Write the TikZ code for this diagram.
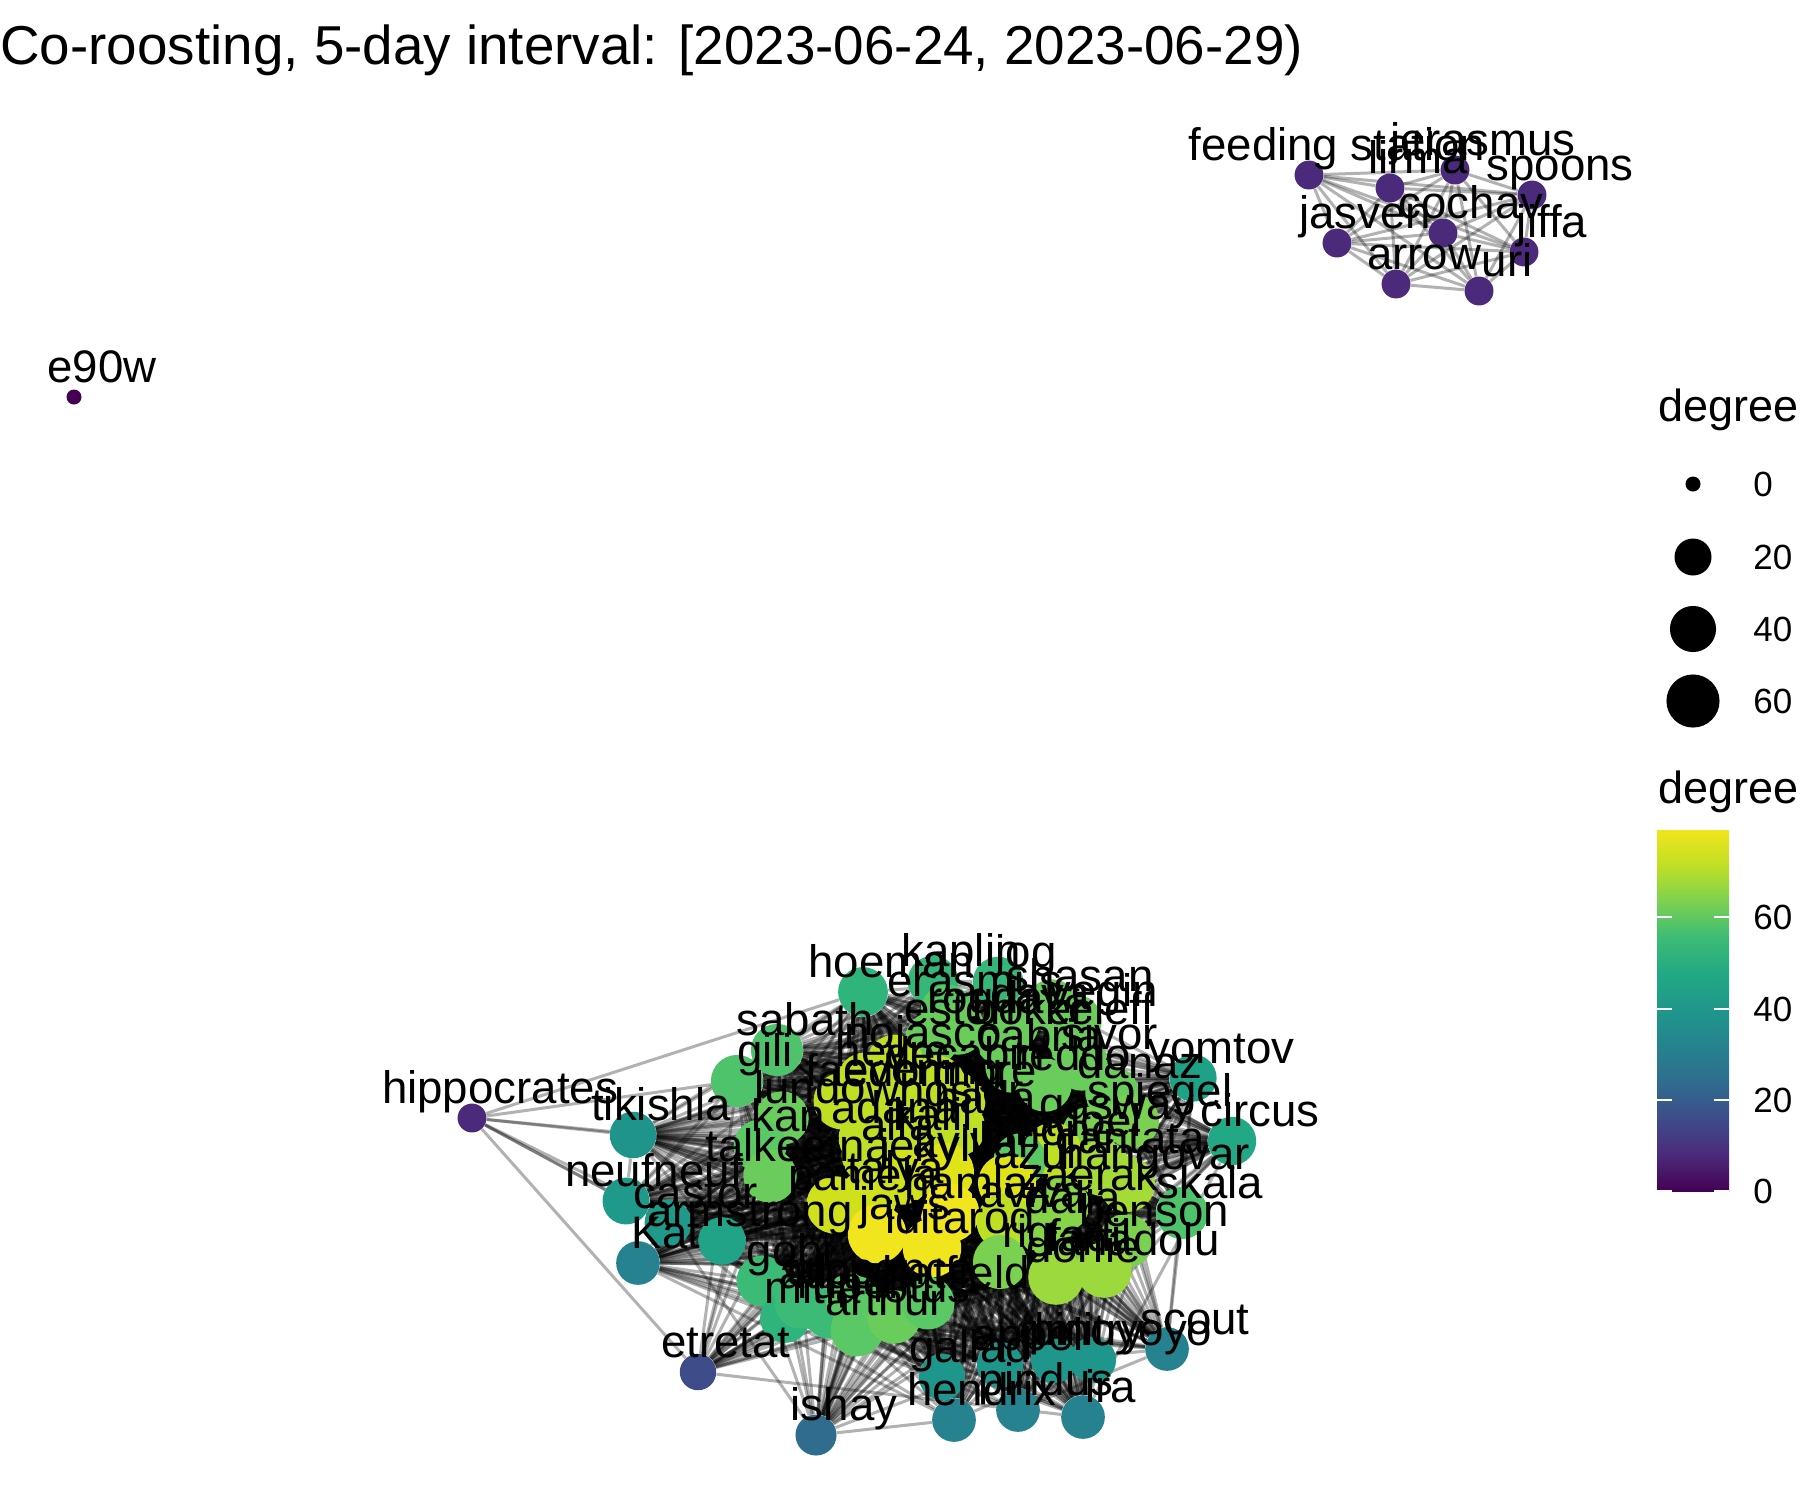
\documentclass[tikz,border=0pt]{standalone}
\usepackage{fontspec}
\setmainfont{Liberation Sans}
\usetikzlibrary{backgrounds}
\definecolor{deg0}{HTML}{440154}
\definecolor{deg8}{HTML}{4B2A7B}
\definecolor{deg19}{HTML}{3E4C8A}
\definecolor{deg28}{HTML}{2F6C8E}
\definecolor{deg34}{HTML}{26828E}
\definecolor{deg40}{HTML}{1F968B}
\definecolor{deg41}{HTML}{1F948A}
\definecolor{deg42}{HTML}{1F9A8A}
\definecolor{deg43}{HTML}{1FA187}
\definecolor{deg44}{HTML}{20A386}
\definecolor{deg46}{HTML}{22A884}
\definecolor{deg50}{HTML}{2FB47C}
\definecolor{deg52}{HTML}{35B779}
\definecolor{deg53}{HTML}{3BBB75}
\definecolor{deg57}{HTML}{4EC36B}
\definecolor{deg59}{HTML}{5AC864}
\definecolor{deg61}{HTML}{6ACD5B}
\definecolor{deg63}{HTML}{7AD151}
\definecolor{deg65}{HTML}{86D549}
\definecolor{deg68}{HTML}{9BD93C}
\definecolor{deg69}{HTML}{A5DB36}
\definecolor{deg72}{HTML}{BFDF25}
\definecolor{deg74}{HTML}{D0E11C}
\definecolor{deg76}{HTML}{E0E318}
\definecolor{deg78}{HTML}{F1E51D}
\pgfdeclareverticalshading{viridisbar}{100bp}{%
  color(0bp)=(deg0);color(25bp)=(deg0);
  color(30bp)=(deg8);color(35bp)=(deg19);color(40bp)=(deg28);
  color(45bp)=(deg34);color(50bp)=(deg40);color(55bp)=(deg46);
  color(60bp)=(deg53);color(65bp)=(deg63);color(70bp)=(deg72);
  color(75bp)=(deg78);color(100bp)=(deg78)}
\tikzset{
  bird/.style={circle,inner sep=0pt,minimum size={(7.5+2.46*sqrt(#1))*1pt},fill=deg#1},
  birdname/.style={anchor=base,inner sep=0pt,font=\fontsize{22.8}{22.8}\selectfont},
  coroost/.style={line width=1.5pt,draw opacity=0.3},
  legendhead/.style={anchor=base west,inner sep=0pt,font=\fontsize{22.5}{22.5}\selectfont},
  legendnum/.style={anchor=west,inner sep=0pt,font=\fontsize{17.5}{17.5}\selectfont},
  legenddot/.style={circle,inner sep=0pt,fill=black,minimum size={(7.5+2.46*sqrt(#1))*1pt}},
  barstick/.style={white,line width=0.6pt}
}
% x/y/degree/name
\def\mainroost{863/992/50/hoeman,933/981/52/kaplin,998/982/52/jog,947/1011/59/erasmus,
  1052/1006/61/shasan,958/1028/61/rogda,1012/1024/61/dava,1075/1021/61/vegin,
  932/1039/61/eston,1002/1039/61/boker,1072/1039/61/keleff,1082/1064/61/sivor,
  1012/1066/61/cabria,895/1063/72/nojasco,865/1081/72/hevre,937/1084/72/decabin,
  842/1101/72/faedor,895/1099/72/evening,957/1101/72/more,1045/1085/61/reddo,
  1112/1093/61/danaz,1132/1121/63/spiegel,1089/1134/63/gasway,1053/1151/72/iadoel,
  1102/1168/69/cantata,1127/1184/69/hangovar,1020/1160/59/pinone,782/1118/61/lundo,
  760/1146/59/kan,770/1176/61/talkeetna,777/1050/57/sabath,737/1081/57/gili,
  917/1121/72/whosler,867/1138/72/adana,957/1128/72/hada,905/1145/72/kalil,870/1155/72/alfa,
  902/1176/74/jekyll,945/1172/76/avivar,835/1205/74/pamela,868/1198/74/talya,877/1234/78/jaws,
  932/1248/78/iditarod,950/1213/78/hamlaz,1007/1183/76/azul,1005/1222/72/aviva,1062/1205/65/zaerak,
  1045/1228/65/dalia,1126/1241/63/benson,1182/1213/57/skala,1193/1078/43/yomtov,1232/1141/46/circus,
  633/1135/41/tikishla,626/1201/42/neufneuf,668/1223/42/castor,722/1241/44/armstrong,
  638/1263/34/Kat,762/1281/53/gobi,785/1318/50/mitla,800/1303/53/atlas,829/1313/53/rupert,
  852/1299/59/tuppence,857/1330/59/arthur,894/1317/61/lotus,928/1303/59/hatfield,
  1000/1262/63/rig,1062/1266/63/fadil,1056/1277/68/dorfie,1104/1270/68/fanadolu,
  942/1377/40/gallad,1000/1365/40/appel,1054/1360/40/dmitry,1093/1360/40/pinoyoyo,
  1167/1349/34/scout,954/1420/34/hendrix,1018/1410/34/pindus,1083/1417/34/ira,
  816/1435/28/ishay,698/1372/19/etretat}
\def\topnest{1309/175/8/feeding station,1390/188/8/lirma,1455/170/8/jerasmus,1532/195/8/spoons,
  1443/233/8/cochav,1524/252/8/jiffa,1337/243/8/jasven,1396/284/8/arrow,1479/291/8/uri}
\begin{document}
\begin{tikzpicture}[x=0.5pt,y=-0.5pt]
  \useasboundingbox (0,0) rectangle (1800,1500);
  \node[anchor=base west,inner sep=0pt,font=\fontsize{27.4}{27.4}\selectfont] (title) at (0,64)
    {Co-roosting, 5-day interval: [2023-06-24, 2023-06-29)};
  % birds
  \node[bird=0] (e90w) at (74,397) {};
  \node[bird=8] (hippocrates) at (472,1118) {};
  \foreach \px/\py/\dg/\nm in \topnest {\node[bird=\dg] (\nm) at (\px,\py) {};}
  \foreach \px/\py/\dg/\nm in \mainroost {\node[bird=\dg] (\nm) at (\px,\py) {};}
  % co-roosting links
  \begin{scope}[on background layer]
    \foreach \xa/\ya/\da/\na [count=\i] in \topnest {
      \foreach \xb/\yb/\db/\nb [count=\j] in \topnest {
        \ifnum\j>\i \draw[coroost] (\na) -- (\nb); \fi
      }
    }
    \foreach \nb in {hoeman,gili,kan,tikishla,neufneuf,castor,armstrong,etretat}
      {\draw[coroost] (hippocrates) -- (\nb);}
    \foreach \xa/\ya/\da/\na [count=\i] in \mainroost {
      \foreach \xb/\yb/\db/\nb [count=\j] in \mainroost {
        \ifnum\j>\i
          \edef\hashs{\the\numexpr\i*\i*7+\j*\j*11+\i*\j*13+\i+3*\j\relax}
          \edef\hashv{\the\numexpr\hashs-97*((\hashs-48)/97)\relax}
          \ifnum\hashv<\numexpr\da*\db/44\relax \draw[coroost] (\na) -- (\nb); \fi
        \fi
      }
    }
  \end{scope}
  % names on top
  \node[birdname] (lab e90w) at ([shift={(28,-15)}]e90w.center) {e90w};
  \node[birdname] (lab hippocrates) at ([shift={(28,-15)}]hippocrates.center) {hippocrates};
  \foreach \px/\py/\dg/\nm in \topnest
    {\node[birdname] (lab \nm) at ([shift={(28,-15)}]\nm.center) {\nm};}
  \foreach \px/\py/\dg/\nm in \mainroost
    {\node[birdname] (lab \nm) at ([shift={(28,-15)}]\nm.center) {\nm};}
  % legends
  \node[legendhead] (sizehead) at (1658,421) {degree};
  \foreach \dg/\py in {0/484,20/557,40/629,60/701} {
    \node[legenddot=\dg] (dot\dg) at (1693,\py) {};
    \node[legendnum] (num\dg) at (1753,\py) {\dg};
  }
  \node[legendhead] (barhead) at (1658,803) {degree};
  \shade[shading=viridisbar] (1657,830) rectangle (1729,1191);
  \foreach \dg/\py in {0/1191,20/1100,40/1009,60/917} {
    \draw[barstick] (1657,\py) -- (1672,\py) (1714,\py) -- (1729,\py);
    \node[legendnum] (barnum\dg) at (1753,\py) {\dg};
  }
\end{tikzpicture}
\end{document}
